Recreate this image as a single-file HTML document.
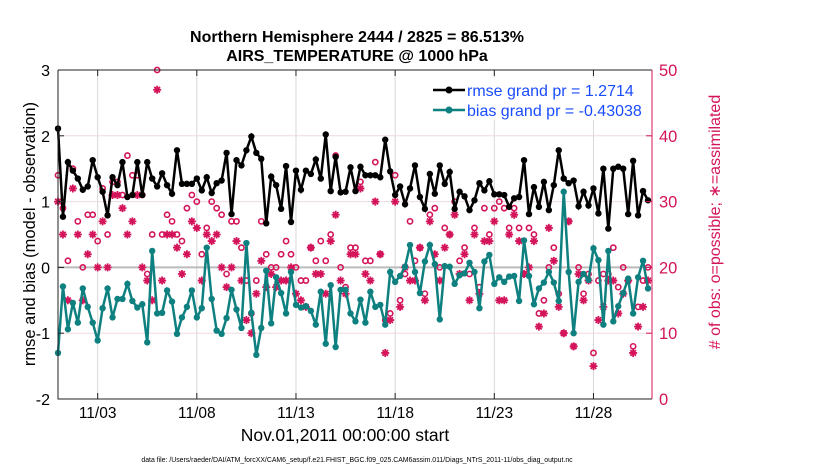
<!DOCTYPE html>
<html><head><meta charset="utf-8"><style>
body{margin:0;background:#fff;}
svg{display:block;font-family:"Liberation Sans",sans-serif;}
</style></head><body>
<svg id="chart" width="830" height="470">
<rect x="0" y="0" width="830" height="470" fill="#fff"/>
<text x="357" y="42" text-anchor="middle" font-size="16" font-weight="bold">Northern Hemisphere 2444 / 2825 = 86.513%</text>
<text x="357" y="61" text-anchor="middle" font-size="16" font-weight="bold">AIRS_TEMPERATURE @ 1000 hPa</text>
<g id="grid"></g>
<g id="marks"></g>
<g id="axes"></g>
<text transform="translate(35,234) rotate(-90)" text-anchor="middle" font-size="16.5">rmse and bias (model - observation)</text>
<text transform="translate(720,222) rotate(-90)" text-anchor="middle" font-size="16" fill="#d4145a"># of obs: o=possible; ∗=assimilated</text>
<text x="345" y="441" text-anchor="middle" font-size="17.5">Nov.01,2011 00:00:00 start</text>
<text x="357" y="462" text-anchor="middle" font-size="6.9">data file: /Users/raeder/DAI/ATM_forcXX/CAM6_setup/f.e21.FHIST_BGC.f09_025.CAM6assim.011/Diags_NTrS_2011-11/obs_diag_output.nc</text>
<g>
<rect x="425" y="78" width="218" height="42" fill="#fff"/>
<line x1="433" y1="90" x2="465" y2="90" stroke="#000" stroke-width="2.5"/><circle cx="449" cy="90" r="3.5" fill="#000"/>
<text x="467" y="96" font-size="16" fill="#1a4cff">rmse grand pr = 1.2714</text>
<line x1="433" y1="110" x2="465" y2="110" stroke="#0f8080" stroke-width="2.5"/><circle cx="449" cy="110" r="3.5" fill="#0f8080"/>
<text x="467" y="116" font-size="16" fill="#1a4cff">bias grand pr = -0.43038</text>
</g>
</svg>
<script>
const rmse=[2.11,0.77,1.60,1.47,1.35,1.18,1.23,1.63,1.37,1.15,0.79,1.37,1.25,1.60,1.07,1.10,1.60,1.10,1.60,1.35,1.23,1.43,1.25,1.12,1.78,1.27,1.27,1.27,1.35,1.17,
1.37,1.13,1.28,1.32,1.74,0.81,1.63,1.55,1.78,1.99,1.74,1.65,0.67,1.38,1.25,0.89,1.54,0.69,1.47,1.18,1.47,1.42,1.64,1.35,2.02,1.16,1.68,1.14,1.15,1.52,
1.16,1.53,1.40,1.40,1.40,1.37,1.94,1.46,1.10,1.23,0.96,1.20,1.55,1.07,0.89,1.42,1.12,1.55,1.27,1.45,0.89,1.15,1.08,0.87,1.02,1.28,1.17,1.31,1.11,1.11,
1.10,0.92,1.05,1.07,1.63,0.81,1.22,0.92,1.30,0.87,1.25,1.78,1.35,1.28,1.32,0.93,1.15,0.94,1.20,0.82,1.50,0.59,1.50,1.53,1.50,0.81,1.62,0.79,1.16,1.02];
const bias=[-1.30,-0.29,-0.94,-0.54,-0.84,-0.32,-0.60,-0.84,-1.11,-0.62,-0.32,-0.76,-0.48,-0.48,-0.25,-0.51,-0.61,-0.56,-1.14,0.25,-0.70,-0.69,-0.35,-0.52,-1.01,-0.76,-0.60,-0.35,-0.76,-0.62,
0.30,-0.48,-0.96,-1.01,-0.77,-0.34,-0.64,-0.92,0.37,-0.69,-1.33,-0.92,-0.05,-0.85,-0.15,-0.39,-0.70,-0.07,-0.57,-0.61,-0.59,-0.66,-0.87,-0.37,-1.16,-0.27,-1.21,-0.34,-0.34,-0.70,
-0.82,-0.49,-0.84,-0.37,-0.60,-0.57,-0.87,-0.07,-0.22,-0.13,0.01,0.34,-0.07,-0.39,0.09,0.34,0.05,-0.79,0.02,0.01,-0.25,-0.12,-0.09,0.07,-0.07,-0.62,0.09,0.19,-0.25,-0.15,
-0.22,-0.14,-0.13,-0.51,0.41,-0.13,-0.56,-0.32,-0.23,-0.07,-0.23,-0.51,1.15,-0.07,-1.00,-0.22,-0.10,-0.19,0.29,0.11,-0.87,0.25,-0.82,-0.59,-0.39,-0.17,-0.70,-0.15,0.10,-0.32];
const nPossible=[34,29,21,35,27,20,28,28,24,32,25,33,33,31,37,34,34,31,19,25,50,25,28,27,25,24,29,31,30,22,
26,30,29,28,19,27,27,23,18,13,18,27,22,20,20,22,24,22,20,18,18,23,21,24,21,25,37,20,17,23,
23,33,21,21,36,22,12,13,34,15,19,27,21,23,16,28,29,20,26,25,30,21,23,19,26,17,29,25,29,30,
29,26,29,26,19,26,25,13,15,20,23,16,10,27,8,20,16,19,7,18,19,19,23,17,20,18,8,14,18,20];
const nAssim=[30,25,15,32,25,15,22,25,20,27,20,31,31,29,25,27,31,20,18,15,47,18,25,25,23,19,22,27,26,18,
25,24,25,20,17,20,24,18,12,10,16,21,17,19,17,18,18,20,16,15,14,23,19,19,16,24,28,18,16,22,
22,32,19,18,30,22,7,12,30,14,20,18,18,23,15,27,22,18,23,25,28,19,22,15,25,16,24,24,27,15,
15,25,28,24,19,20,24,11,13,26,21,14,10,27,8,19,15,18,5,12,14,18,18,13,16,18,7,11,14,18];
const yTicks=[-2,-1,0,1,2,3];
const y2Ticks=[0,10,20,30,40,50];
const xTickDays=[2,7,12,17,22,27];
const xTickLabels=["11/03","11/08","11/13","11/18","11/23","11/28"];

const NS="http://www.w3.org/2000/svg";
const X0=58,X1=652,Y0=399,Y1=70;
const xs=d=>X0+(d/29.75)*(648-X0);
const ys=v=>Y0-(v+2)/5*(Y0-Y1);
const ys2=c=>Y0-c/50*(Y0-Y1);
function mk(tag,attrs,parent){const e=document.createElementNS(NS,tag);for(const k in attrs)e.setAttribute(k,attrs[k]);parent.appendChild(e);return e;}
const grid=document.getElementById('grid'),marks=document.getElementById('marks'),axes=document.getElementById('axes');

xTickDays.forEach((d,i)=>{
  const l=mk('line',{x1:xs(d),x2:xs(d),y1:Y1,y2:Y0,stroke:'#d8d8d8','stroke-width':1},grid);
  
  
  const t=mk('line',{x1:xs(d),x2:xs(d),y1:Y0,y2:Y0-6,stroke:'#222'},axes);
  
  
  const tt=mk('line',{x1:xs(d),x2:xs(d),y1:Y1,y2:Y1+6,stroke:'#222'},axes);
  
  
  const lb=mk('text',{x:xs(d),y:418,'text-anchor':'middle','font-size':15.5},axes);
  lb.textContent=xTickLabels[i];
  
  
});
yTicks.forEach(v=>{
  if(v>-2&&v<3&&v!==0){const g=mk('line',{x1:X0,x2:X1,y1:ys(v),y2:ys(v),stroke:'#f0d8e2','stroke-width':1},grid);
  
  }
  const t=mk('line',{x1:X0,x2:X0+6,y1:ys(v),y2:ys(v),stroke:'#222'},axes);
  
  
  const lb=mk('text',{x:X0-8,y:ys(v)+6,'text-anchor':'end','font-size':16},axes);
  lb.textContent=v;
  
  
});
y2Ticks.forEach(c=>{
  const t=mk('line',{x1:X1,x2:X1-6,y1:ys2(c),y2:ys2(c),stroke:'#d4145a'},axes);
  
  
  const lb=mk('text',{x:X1+7,y:ys2(c)+6,'font-size':16.5,fill:'#d4145a'},axes);
  lb.textContent=c;
  
  
});
const zl=mk('line',{x1:X0,x2:X1,y1:ys(0),y2:ys(0),stroke:'#bbb','stroke-width':2},grid);


const frameL=mk('path',{d:`M${X0},${Y1}V${Y0}H${X1}M${X0},${Y1}H${X1}`,stroke:'#222',fill:'none'},axes);


const frameR=mk('line',{x1:X1,x2:X1,y1:Y1,y2:Y0,stroke:'#d4145a'},axes);



const day=i=>i/4;
nPossible.forEach((c,i)=>{
  const e=mk('circle',{cx:xs(day(i)),cy:ys2(c),r:2.6,fill:'none',stroke:'#d4145a','stroke-width':1.6},marks);
  
  
});
nAssim.forEach((c,i)=>{
  const x=xs(day(i)),y=ys2(c),r=4;
  const d=`M${x-r},${y}H${x+r}M${x},${y-r}V${y+r}M${x-2.8},${y-2.8}L${x+2.8},${y+2.8}M${x-2.8},${y+2.8}L${x+2.8},${y-2.8}`;
  const e=mk('path',{d:d,stroke:'#d4145a','stroke-width':1.8,fill:'none'},marks);
  
  
});
function series(vals,color,name){
  const p=mk('polyline',{points:vals.map((v,i)=>xs(day(i))+','+ys(v)).join(' '),fill:'none',stroke:color,'stroke-width':2.5},marks);
  
  
  vals.forEach((v,i)=>{
    const c=mk('circle',{cx:xs(day(i)),cy:ys(v),r:3.2,fill:color},marks);
    
    
  });
}
series(rmse,'#000','rmse');
series(bias,'#0f8080','bias');
</script>
</body></html>
